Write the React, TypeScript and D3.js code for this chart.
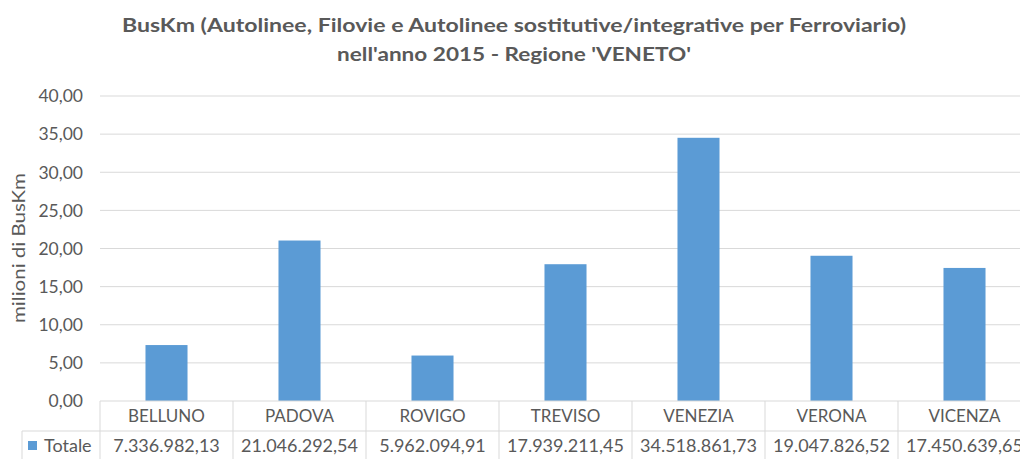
import React from "react";
import * as d3 from "d3";

const categories = ["BELLUNO", "PADOVA", "ROVIGO", "TREVISO", "VENEZIA", "VERONA", "VICENZA"];
const values = [7336982.13, 21046292.54, 5962094.91, 17939211.45, 34518861.73, 19047826.52, 17450639.65];
const yTicks = [0, 5, 10, 15, 20, 25, 30, 35, 40];
const titleLines = [
  "BusKm (Autolinee, Filovie e Autolinee sostitutive/integrative per Ferroviario)",
  "nell'anno 2015 - Regione 'VENETO'",
];
const yLabel = "milioni di BusKm";
const seriesName = "Totale";

const W = 1020;
const H = 459;
const FONT = "Lato, 'Open Sans', sans-serif";
const TXT = "#595959";
const GRID = "#d9d9d9";
const BAR = "#5B9BD5";

const fmtTick = (v: number) => v.toFixed(2).replace(".", ",");
const fmtVal = (v: number) => {
  const [i, d] = v.toFixed(2).split(".");
  return i.replace(/\B(?=(\d{3})+(?!\d))/g, ".") + "," + d;
};

export default function App() {
  const left = 100;
  const right = 1031;
  const top = 96;
  const bottom = 401;
  const x = d3.scaleBand<string>().domain(categories).range([left, right]).paddingInner(0.684).paddingOuter(0.342);
  const y = d3.scaleLinear().domain([0, 40]).range([bottom, top]);
  const step = x.step();
  const row1Bottom = 431;
  const tableLeft = 22;

  return (
    <svg width={W} height={H} style={{ position: "absolute", left: 0, top: 0, background: "#fff" }} fontFamily={FONT}>
      <rect x={0} y={0} width={W} height={H} fill="#fff" />
      {titleLines.map((t, i) => (
        <text
          key={i}
          x={514}
          y={i === 0 ? 32 : 61}
          textAnchor="middle"
          fontSize={18.5}
          fontWeight="bold"
          fill={TXT}
          textLength={i === 0 ? 784 : 354}
          lengthAdjust="spacingAndGlyphs"
        >
          {t}
        </text>
      ))}
      {yTicks.map((t) => (
        <g key={t}>
          {t > 0 && <line x1={left} x2={right} y1={y(t)} y2={y(t)} stroke={GRID} strokeWidth={1} />}
          <text x={83} y={y(t)} dy="0.36em" textAnchor="end" fontSize={17.5} fill={TXT}>
            {fmtTick(t)}
          </text>
        </g>
      ))}
      <text
        transform={`translate(19,248) rotate(-90)`}
        textAnchor="middle"
        dy="0.35em"
        fontSize={18}
        fill={TXT}
        textLength={150}
        lengthAdjust="spacingAndGlyphs"
      >
        {yLabel}
      </text>
      {categories.map((c, i) => (
        <rect
          key={c}
          x={x(c)}
          y={y(values[i] / 1e6)}
          width={x.bandwidth()}
          height={bottom - y(values[i] / 1e6)}
          fill={BAR}
        />
      ))}
      {/* data table */}
      <line x1={left} x2={right} y1={bottom} y2={bottom} stroke={GRID} />
      <line x1={tableLeft} x2={right} y1={row1Bottom} y2={row1Bottom} stroke={GRID} />
      <line x1={tableLeft} x2={tableLeft} y1={row1Bottom} y2={H} stroke={GRID} />
      {categories.map((c, i) => {
        const x0 = (x(c) as number) - x.paddingInner() * step / 2;
        const cx = x0 + step / 2;
        return (
          <g key={c}>
            <line x1={x0} x2={x0} y1={bottom} y2={H} stroke={GRID} />
            <text x={cx} y={422} textAnchor="middle" fontSize={17} fill={TXT}>
              {c}
            </text>
            <text x={cx} y={452} textAnchor="middle" fontSize={18} fill={TXT}>
              {fmtVal(values[i])}
            </text>
          </g>
        );
      })}
      <rect x={28} y={441} width={9} height={9} fill={BAR} />
      <text x={44} y={452} fontSize={18} fill={TXT}>
        {seriesName}
      </text>
    </svg>
  );
}
